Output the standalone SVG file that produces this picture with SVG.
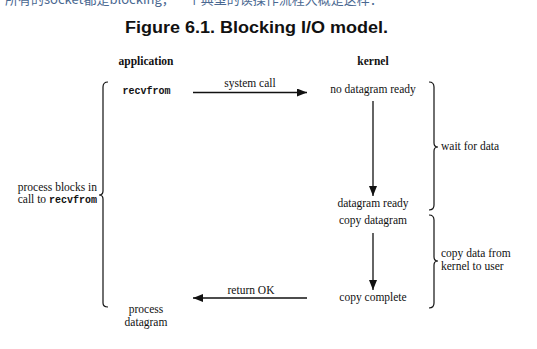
<svg xmlns="http://www.w3.org/2000/svg" width="537" height="349" viewBox="0 0 537 349">
<defs>
<style>
.t{font-family:"Liberation Serif","DejaVu Serif",serif;font-size:11.5px;fill:#111}
.b{font-weight:bold}
.m{font-family:"Liberation Mono","DejaVu Sans Mono",monospace;font-weight:bold;font-size:10px;fill:#111}
.ln{stroke:#111;stroke-width:1.3;fill:none}
.br{stroke:#111;stroke-width:1.2;fill:none}
</style>
<marker id="ah" viewBox="0 0 10 8" refX="10" refY="4" markerWidth="10" markerHeight="8" markerUnits="userSpaceOnUse" orient="auto">
<path d="M0,0 L10,4 L0,8 Z" fill="#111"/>
</marker>
</defs>
<rect width="537" height="349" fill="#fff"/>
<text x="5" y="4" font-family="'Noto Sans CJK SC','Liberation Sans',sans-serif" font-size="13" fill="#4a6891">所有的socket都是blocking，一个典型的读操作流程大概是这样：</text>
<text x="256.5" y="33" text-anchor="middle" font-family="'Liberation Sans','DejaVu Sans',sans-serif" font-weight="bold" font-size="16" fill="#111" textLength="263" lengthAdjust="spacingAndGlyphs">Figure 6.1. Blocking I/O model.</text>

<g id="connectors">
<line class="ln" x1="193" y1="92.5" x2="307" y2="92.5" marker-end="url(#ah)"/>
<line class="ln" x1="373" y1="101" x2="373" y2="196" marker-end="url(#ah)"/>
<line class="ln" x1="373" y1="233" x2="373" y2="290" marker-end="url(#ah)"/>
<line class="ln" x1="307" y1="298" x2="193" y2="298" marker-end="url(#ah)"/>
<text class="t" x="250" y="87" text-anchor="middle">system call</text>
<text class="t" x="251" y="294" text-anchor="middle">return OK</text>
</g>

<g id="headers">
<text class="t b" x="146" y="65" text-anchor="middle">application</text>
<text class="t b" x="373" y="65" text-anchor="middle">kernel</text>
</g>

<g id="app-recvfrom"><text class="m" x="146.5" y="94" text-anchor="middle">recvfrom</text></g>
<g id="app-process"><text class="t" x="146" y="313" text-anchor="middle">process</text><text class="t" x="146" y="326" text-anchor="middle">datagram</text></g>

<g id="k-nodata"><text class="t" x="373" y="93" text-anchor="middle">no datagram ready</text></g>
<g id="k-ready"><text class="t" x="373" y="207" text-anchor="middle">datagram ready</text></g>
<g id="k-copy"><text class="t" x="373" y="224" text-anchor="middle">copy datagram</text></g>
<g id="k-complete"><text class="t" x="373" y="301" text-anchor="middle">copy complete</text></g>

<g id="brace-left">
<path class="br" d="M108,82 Q103,82 103,87 L103,191 Q103,195 99,195 Q103,195 103,199 L103,303 Q103,307 108,307"/>
<text class="t" x="97" y="191" text-anchor="end">process blocks in</text>
<text class="t" x="97" y="203" text-anchor="end">call to <tspan class="m" font-weight="normal">recvfrom</tspan></text>
</g>
<g id="brace-wait">
<path class="br" d="M429,82 Q434,82 434,87 L434,143 Q434,147 438,147 Q434,147 434,151 L434,205 Q434,210 429,210"/>
<text class="t" x="441" y="150">wait for data</text>
</g>
<g id="brace-copy">
<path class="br" d="M429,215 Q434,215 434,220 L434,257 Q434,261 438,261 Q434,261 434,265 L434,303 Q434,308 429,308"/>
<text class="t" x="441" y="257">copy data from</text>
<text class="t" x="441" y="270">kernel to user</text>
</g>
</svg>
